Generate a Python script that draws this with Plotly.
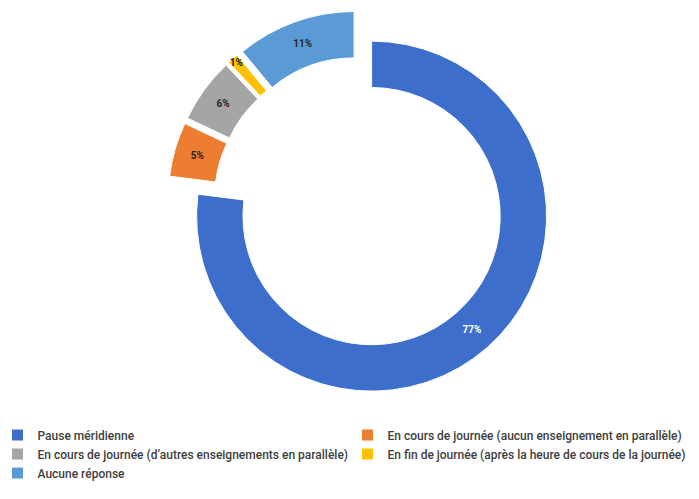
import plotly.graph_objects as go

labels = [
    "Pause méridienne",
    "En cours de journée (aucun enseignement en parallèle)",
    "En cours de journée (d’autres enseignements en parallèle)",
    "En fin de journée (après la heure de cours de la journée)",
    "Aucune réponse",
]
values = [77, 5, 6, 1, 11]
colors = ["#3D6ECB", "#ED7D31", "#A5A5A5", "#FFC000", "#5B9BD5"]
text_colors = ["#FFFFFF", "#262626", "#262626", "#262626", "#262626"]

W, H = 699, 499
fig = go.Figure(
    go.Pie(
        labels=labels,
        values=values,
        hole=0.735,
        sort=False,
        direction="clockwise",
        rotation=0,
        pull=[0.1] * len(values),
        marker=dict(colors=colors, line=dict(color="white", width=1)),
        texttemplate="<b>%{value}%</b>",
        textposition="inside",
        insidetextorientation="horizontal",
        textfont=dict(color=text_colors, size=10, family="Roboto, Arial, sans-serif"),
        domain=dict(x=[0.2282, 0.7790], y=[0.0526, 0.9939]),
        hoverinfo="label+percent",
    )
)

fig.update_layout(
    width=W,
    height=H,
    paper_bgcolor="white",
    plot_bgcolor="white",
    margin=dict(l=0, r=0, t=0, b=90, autoexpand=False),
    uniformtext=dict(mode="show", minsize=10),
    showlegend=True,
    legend=dict(
        orientation="h",
        x=-0.015,
        xanchor="left",
        y=-0.0086,
        yanchor="top",
        entrywidth=305,
        entrywidthmode="pixels",
        traceorder="normal",
        font=dict(family="Roboto, Arial, sans-serif", size=12, color="#404040", weight=500),
        bgcolor="rgba(0,0,0,0)",
    ),
)

fig.write_html("out.html")
